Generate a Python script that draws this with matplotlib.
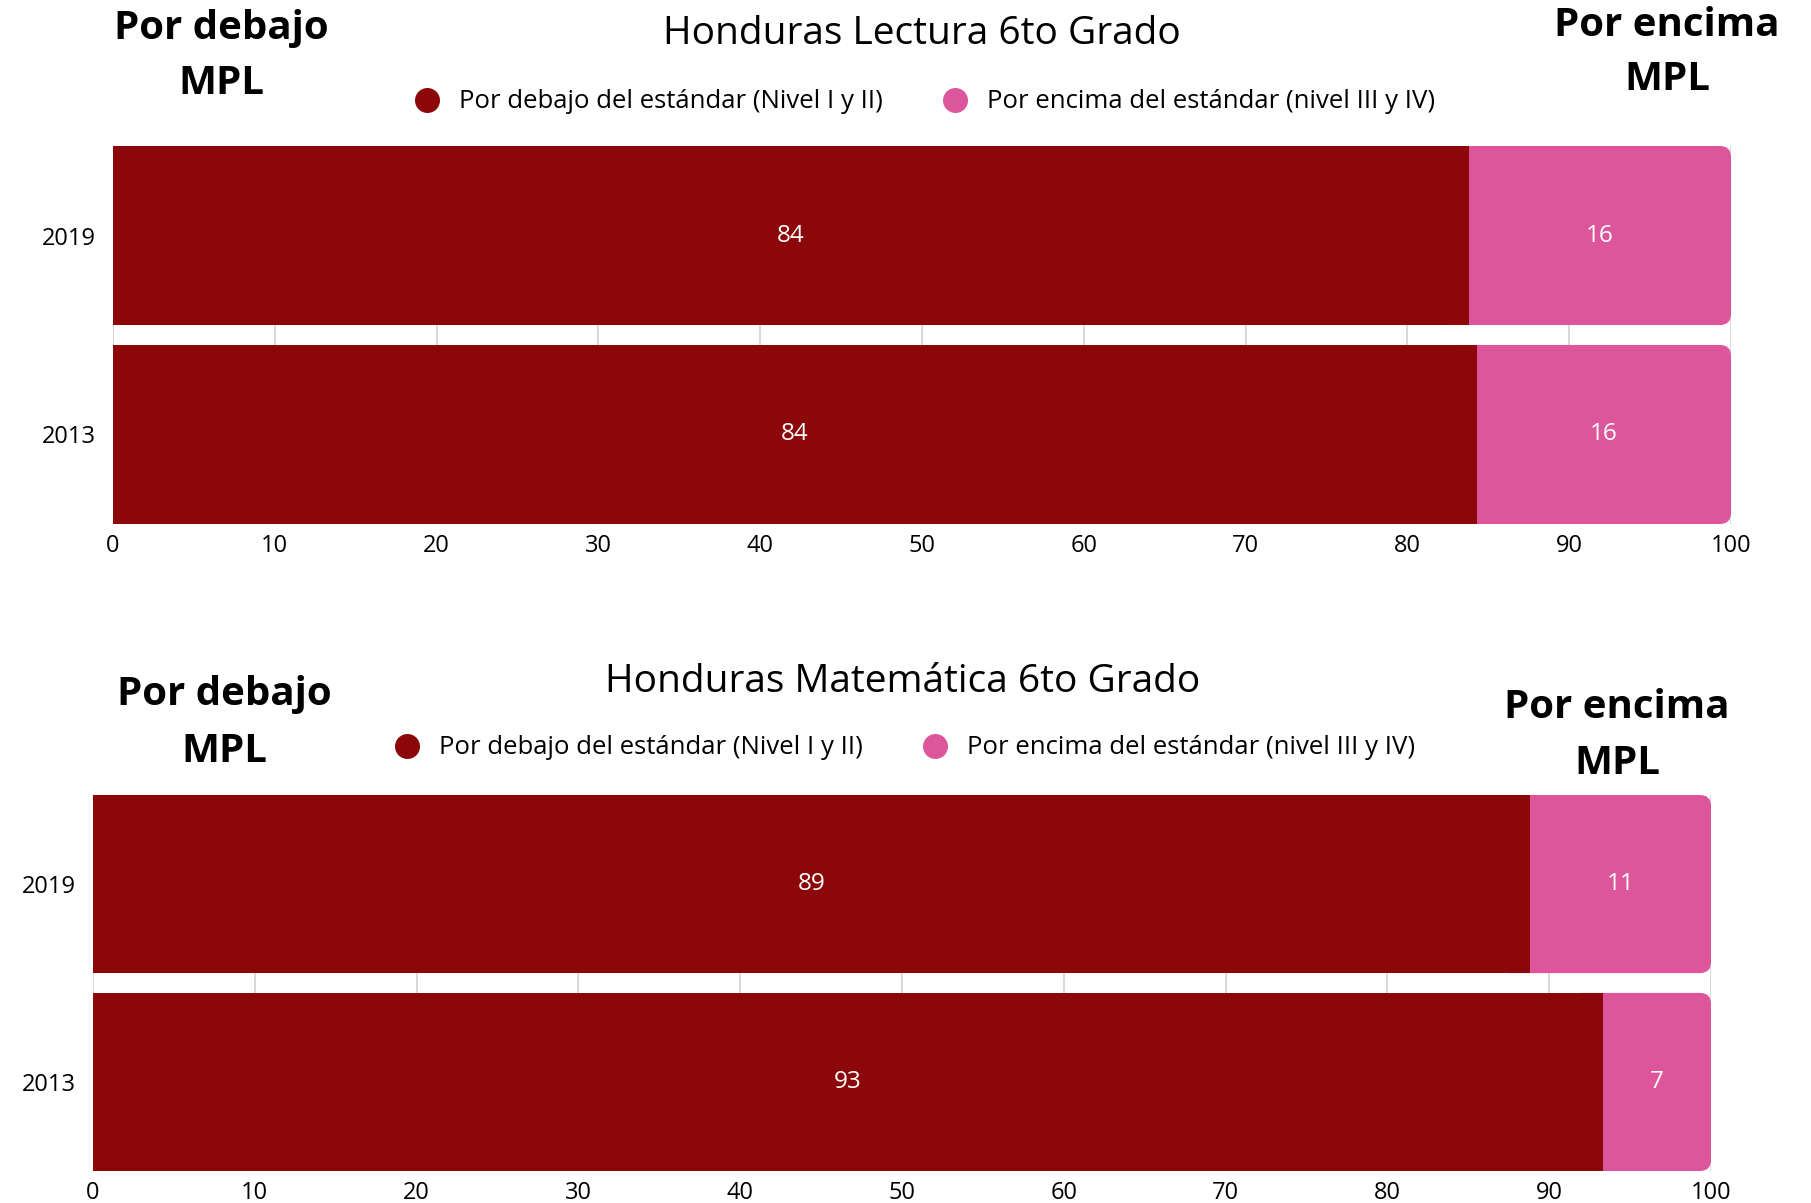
import numpy as np
import matplotlib
matplotlib.use("Agg")
import matplotlib.pyplot as plt
from matplotlib.patches import FancyBboxPatch
from matplotlib.lines import Line2D

plt.rcParams['font.family'] = ['Open Sans', 'DejaVu Sans']

# Datos
years = ['2013', '2019']
lectura_debajo = [84.3, 83.8]
lectura_encima = [15.7, 16.2]
mate_debajo = [93.3, 88.8]
mate_encima = [6.7, 11.2]

titles = ['Honduras Lectura 6to Grado', 'Honduras Matemática 6to Grado']
legend_labels = ['Por debajo del estándar (Nivel I y II)',
                 'Por encima del estándar (nivel III y IV)']
x_ticks = [0, 10, 20, 30, 40, 50, 60, 70, 80, 90, 100]

c_debajo = '#8c0709'
c_encima = '#dd559b'

W, H = 1811, 1203
fig = plt.figure(figsize=(W / 100, H / 100), dpi=100)


def px(x, y):
    return x / W, 1 - y / H


def draw_panel(rect, debajo, encima):
    ax = fig.add_axes(rect)
    y = np.arange(len(years))
    h = 0.9
    ax.barh(y, debajo, height=h, color=c_debajo, zorder=3)
    # segmento rosado con esquinas derechas redondeadas
    ux = rect[2] * W / 100.0
    uy = rect[3] * H / 1.9
    r = 11 / ux
    for yi, d, e in zip(y, debajo, encima):
        left = d - 2
        p = FancyBboxPatch((left, yi - h / 2), d + e - left, h,
                           boxstyle=f"round,pad=0,rounding_size={r}",
                           mutation_aspect=ux / uy,
                           facecolor=c_encima, edgecolor='none', zorder=2)
        ax.add_patch(p)
        ax.text(d / 2, yi, f"{d:.0f}", color='white', ha='center', va='center',
                fontsize=17.5, zorder=4)
        ax.text(d + e / 2, yi, f"{e:.0f}", color='white', ha='center', va='center',
                fontsize=17.5, zorder=4)
    ax.set_xlim(0, 100)
    ax.set_ylim(-0.45, 1.45)
    ax.set_xticks(x_ticks)
    ax.set_yticks(y)
    ax.set_yticklabels(years)
    ax.tick_params(length=0, labelsize=17)
    ax.tick_params(axis='x', pad=7)
    ax.tick_params(axis='y', pad=12)
    ax.grid(axis='x', color='#d3d3d3', linewidth=1.2, zorder=0)
    for s in ax.spines.values():
        s.set_visible(False)
    return ax


draw_panel([113 / W, 1 - 524 / H, 1618 / W, 378 / H], lectura_debajo, lectura_encima)
draw_panel([93 / W, 1 - 1171 / H, 1618 / W, 376 / H], mate_debajo, mate_encima)

handles = [Line2D([], [], marker='o', linestyle='none', markersize=18,
                  markerfacecolor=c, markeredgecolor='none')
           for c in (c_debajo, c_encima)]

bold = dict(ha='center', va='center', fontsize=29, fontweight='bold')
leg_kw = dict(loc='center', ncol=2, frameon=False, fontsize=18.5,
              handletextpad=0.25, columnspacing=1.8)

# Títulos, leyendas y anotaciones
fig.text(*px(922, 34), titles[0], ha='center', va='center', fontsize=28)
fig.legend(handles, legend_labels, bbox_to_anchor=px(918, 102), **leg_kw)
fig.text(*px(221, 29), 'Por debajo', **bold)
fig.text(*px(221, 84), 'MPL', **bold)
fig.text(*px(1667, 25), 'Por encima', **bold)
fig.text(*px(1667, 80), 'MPL', **bold)

fig.text(*px(903, 682), titles[1], ha='center', va='center', fontsize=28)
fig.legend(handles, legend_labels, bbox_to_anchor=px(898, 748), **leg_kw)
fig.text(*px(224, 695), 'Por debajo', **bold)
fig.text(*px(224, 751), 'MPL', **bold)
fig.text(*px(1617, 708), 'Por encima', **bold)
fig.text(*px(1617, 763), 'MPL', **bold)

fig.savefig('out.png', dpi=100)
